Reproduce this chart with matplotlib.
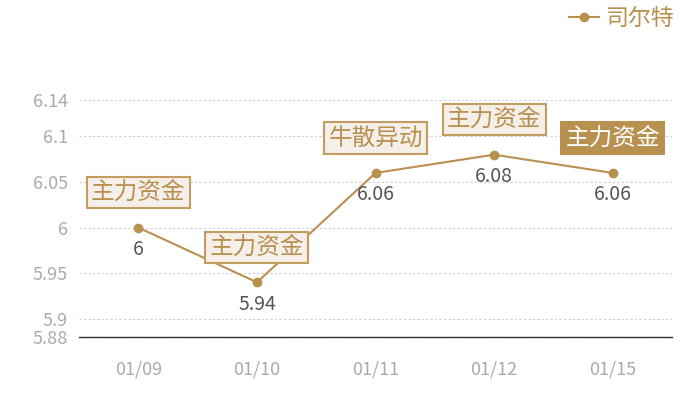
import matplotlib
matplotlib.use("Agg")
import matplotlib.pyplot as plt

# chart data
dates = ["01/09", "01/10", "01/11", "01/12", "01/15"]
prices = [6.0, 5.94, 6.06, 6.08, 6.06]
tags = ["主力资金", "主力资金", "牛散异动", "主力资金", "主力资金"]
yticks = [5.88, 5.9, 5.95, 6.0, 6.05, 6.1, 6.14]
ytick_labels = ["5.88", "5.9", "5.95", "6", "6.05", "6.1", "6.14"]
series_name = "司尔特"

plt.rcParams["font.family"] = ["Noto Sans CJK SC", "DejaVu Sans"]

gold = "#b8904f"
box_bg = "#f4efe8"
box_edge = "#c49c62"

fig = plt.figure(figsize=(7, 4), dpi=100)
ax = fig.add_axes([0.113, 0.1575, 0.847, 0.5925])

x = list(range(len(dates)))
ax.plot(x, prices, color=gold, lw=1.5, marker="o", ms=6, label=series_name, zorder=3)

# value labels under the points
for i, v in enumerate(prices):
    ax.annotate(f"{v:g}", (i, v), xytext=(0, -22), textcoords="offset pixels",
                ha="center", va="center", fontsize=14, color="#555555")

# tag boxes above points, the last one highlighted
for i, (v, t) in enumerate(zip(prices, tags)):
    last = i == len(tags) - 1
    ax.annotate(t, (i, v), xytext=(0, 35), textcoords="offset pixels",
                ha="center", va="center", fontsize=17,
                color="white" if last else gold,
                bbox=dict(boxstyle="square,pad=0.18",
                          fc=gold if last else box_bg,
                          ec=gold if last else box_edge, lw=1.5),
                zorder=4)

ax.set_xlim(-0.5, len(dates) - 0.5)
ax.set_ylim(5.88, 6.14)
ax.set_xticks(x)
ax.set_xticklabels(dates)
ax.set_yticks(yticks)
ax.set_yticklabels(ytick_labels)
ax.tick_params(length=0, colors="#aaaaaa", labelsize=13)
ax.tick_params(axis="x", pad=17)
ax.tick_params(axis="y", pad=8)
ax.yaxis.grid(True, ls=(0, (2, 2)), color="#cccccc", lw=0.8)
for s in ["top", "right", "left"]:
    ax.spines[s].set_visible(False)
ax.spines["bottom"].set_color("#333333")
ax.spines["bottom"].set_linewidth(1)

leg = fig.legend(loc="upper right", bbox_to_anchor=(0.993, 1.035), frameon=False,
                 fontsize=16.5, handlelength=1.3, handletextpad=0.3)
for txt in leg.get_texts():
    txt.set_color(gold)

fig.savefig("out.png", dpi=100)
